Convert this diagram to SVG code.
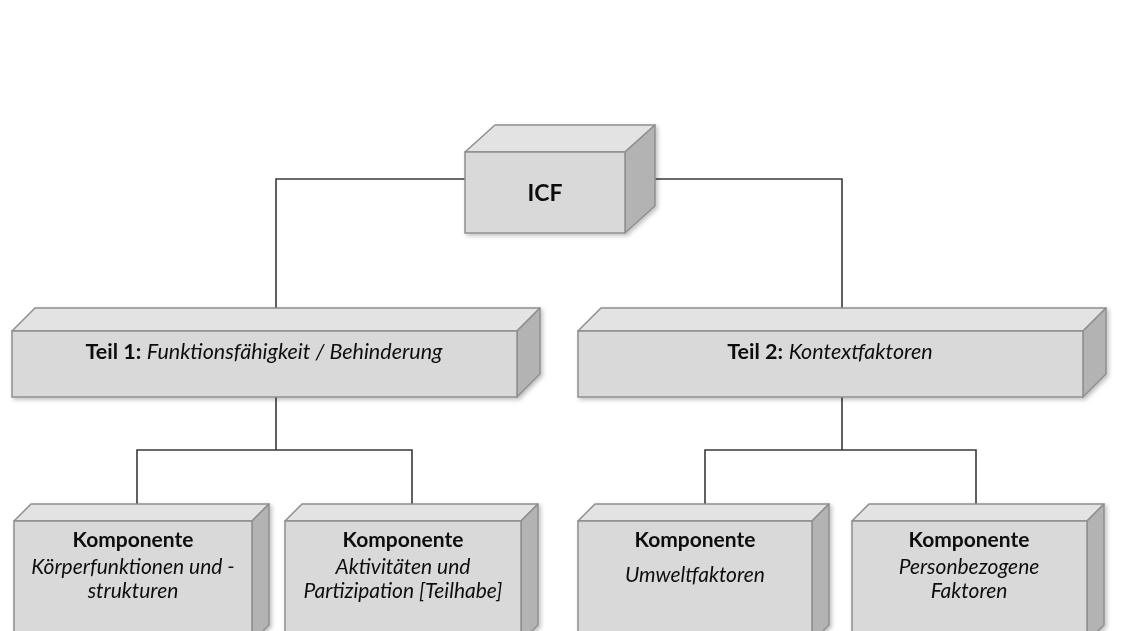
<svg xmlns="http://www.w3.org/2000/svg" width="1126" height="631" viewBox="0 0 1126 631">
<defs>
<filter id="sh" x="-10%" y="-10%" width="130%" height="130%">
<feDropShadow dx="2" dy="2" stdDeviation="2" flood-color="#000" flood-opacity="0.25"/>
</filter>
</defs>
<style>
.front{fill:#d9d9d9;stroke:#8f8f8f;stroke-width:1.5}
.top{fill:#e3e3e3;stroke:#8f8f8f;stroke-width:1.5;stroke-linejoin:round}
.side{fill:#b3b3b3;stroke:#8f8f8f;stroke-width:1.5;stroke-linejoin:round}
.conn{fill:none;stroke:#3a3a3a;stroke-width:1.6}
text{font-family:Lato,"Liberation Sans",sans-serif;fill:#0f0f0f;text-anchor:middle;font-size:21px}
.b{font-weight:bold}
.i{font-style:italic}
</style>
<rect width="1126" height="631" fill="#fff"/>
<g id="connectors">
<path class="conn" d="M465,179 H276 V308"/>
<path class="conn" d="M625,179 H842 V308"/>
<path class="conn" d="M276,397 V450 M137,505 V450 H412 V505"/>
<path class="conn" d="M842,397 V450 M705,505 V450 H976 V505"/>
</g>
<g id="icf" filter="url(#sh)">
<polygon class="top" points="465,152 495,125 655,125 625,152"/>
<polygon class="side" points="625,152 655,125 655,206 625,233"/>
<rect class="front" x="465" y="152" width="160" height="81"/>
<text class="b" x="545" y="201" style="font-size:23px">ICF</text>
</g>
<g id="teil1" filter="url(#sh)">
<polygon class="top" points="12,331 35,308 540,308 517,331"/>
<polygon class="side" points="517,331 540,308 540,374 517,397"/>
<rect class="front" x="12" y="331" width="505" height="66"/>
<text x="264" y="359" style="font-size:21.5px"><tspan class="b">Teil 1:</tspan> <tspan class="i">Funktionsfähigkeit / Behinderung</tspan></text>
</g>
<g id="teil2" filter="url(#sh)">
<polygon class="top" points="578,331 601,308 1106,308 1083,331"/>
<polygon class="side" points="1083,331 1106,308 1106,374 1083,397"/>
<rect class="front" x="578" y="331" width="505" height="66"/>
<text x="830" y="359" style="font-size:21.5px"><tspan class="b">Teil 2:</tspan> <tspan class="i">Kontextfaktoren</tspan></text>
</g>
<g id="komp1" filter="url(#sh)">
<polygon class="top" points="14,521 31,504 269,504 252,521"/>
<polygon class="side" points="252,521 269,504 269,625 252,642"/>
<rect class="front" x="14" y="521" width="238" height="121"/>
<text class="b" x="133" y="547">Komponente</text>
<text class="i" x="133" y="574">Körperfunktionen und -</text>
<text class="i" x="133" y="598">strukturen</text>
</g>
<g id="komp2" filter="url(#sh)">
<polygon class="top" points="285,521 302,504 538,504 521,521"/>
<polygon class="side" points="521,521 538,504 538,625 521,642"/>
<rect class="front" x="285" y="521" width="236" height="121"/>
<text class="b" x="403" y="547">Komponente</text>
<text class="i" x="403" y="574">Aktivitäten und</text>
<text class="i" x="403" y="598">Partizipation [Teilhabe]</text>
</g>
<g id="komp3" filter="url(#sh)">
<polygon class="top" points="578,521 595,504 829,504 812,521"/>
<polygon class="side" points="812,521 829,504 829,625 812,642"/>
<rect class="front" x="578" y="521" width="234" height="121"/>
<text class="b" x="695" y="547">Komponente</text>
<text class="i" x="695" y="582">Umweltfaktoren</text>
</g>
<g id="komp4" filter="url(#sh)">
<polygon class="top" points="852,521 869,504 1104,504 1087,521"/>
<polygon class="side" points="1087,521 1104,504 1104,625 1087,642"/>
<rect class="front" x="852" y="521" width="235" height="121"/>
<text class="b" x="969" y="547">Komponente</text>
<text class="i" x="969" y="574">Personbezogene</text>
<text class="i" x="969" y="598">Faktoren</text>
</g>
</svg>
